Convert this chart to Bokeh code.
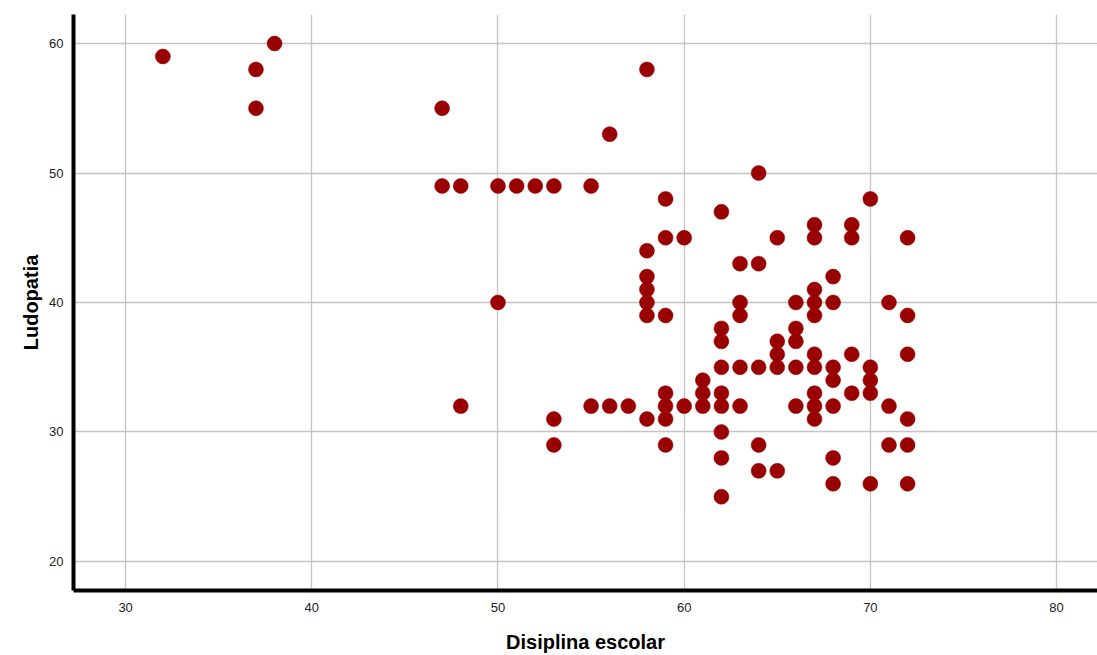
from bokeh.plotting import figure
from bokeh.models import Range1d, FixedTicker
from bokeh.embed import file_html
from bokeh.resources import INLINE

# Disiplina escolar (x) and Ludopatia (y)
disiplina = [32, 37, 37, 38, 47, 58, 56,
             47, 48, 50, 51, 52, 53, 55,
             64, 70, 59, 62,
             67, 69,
             59, 60, 65, 67, 69, 72,
             58,
             63, 64,
             58, 68,
             58, 67,
             50, 58, 63, 66, 67, 68, 71,
             58, 59, 63, 67, 72,
             62, 66,
             62, 65, 66,
             65, 67, 69, 72,
             62, 63, 64, 65, 66, 67, 68, 70,
             61, 68, 70,
             59, 61, 62, 67, 69, 70,
             48, 55, 56, 57, 59, 60, 61, 62, 63, 66, 67, 68, 71,
             53, 58, 59, 67, 72,
             62,
             53, 59, 64, 71, 72,
             62, 68,
             64, 65,
             68, 70, 72,
             62]
ludopatia = [59, 58, 55, 60, 55, 58, 53,
             49, 49, 49, 49, 49, 49, 49,
             50, 48, 48, 47,
             46, 46,
             45, 45, 45, 45, 45, 45,
             44,
             43, 43,
             42, 42,
             41, 41,
             40, 40, 40, 40, 40, 40, 40,
             39, 39, 39, 39, 39,
             38, 38,
             37, 37, 37,
             36, 36, 36, 36,
             35, 35, 35, 35, 35, 35, 35, 35,
             34, 34, 34,
             33, 33, 33, 33, 33, 33,
             32, 32, 32, 32, 32, 32, 32, 32, 32, 32, 32, 32, 32,
             31, 31, 31, 31, 31,
             30,
             29, 29, 29, 29, 29,
             28, 28,
             27, 27,
             26, 26, 26,
             25]

x_ticks = [30, 40, 50, 60, 70, 80]
y_ticks = [20, 30, 40, 50, 60]

p = figure(width=1097, height=655, output_backend="svg", toolbar_location=None,
           x_range=Range1d(27.2, 82.2), y_range=Range1d(17.76, 62.24),
           min_border_left=73, min_border_top=14, min_border_right=0,
           min_border_bottom=65)
p.outline_line_color = None

p.scatter(disiplina, ludopatia, size=15, fill_color="#990000",
          line_color="#990000", line_width=0.5)

for ax in (p.xaxis[0], p.yaxis[0]):
    ax.axis_line_width = 4
    ax.axis_line_color = "black"
    ax.major_tick_line_color = None
    ax.minor_tick_line_color = None
    ax.major_label_text_font = "Liberation Sans"
    ax.major_label_text_font_size = "13px"
    ax.major_label_text_color = "#222222"
    ax.axis_label_text_font = "Liberation Sans"
    ax.axis_label_text_font_style = "bold"
    ax.axis_label_text_font_size = "20px"
    ax.axis_label_text_color = "black"

p.xaxis.ticker = FixedTicker(ticks=x_ticks)
p.yaxis.ticker = FixedTicker(ticks=y_ticks)
p.xaxis.axis_label = "Disiplina escolar"
p.yaxis.axis_label = "Ludopatia"
p.xaxis.major_label_standoff = 6
p.xaxis.axis_label_standoff = 16
p.yaxis.major_label_standoff = 4
p.yaxis.axis_label_standoff = 4

p.xgrid.ticker = FixedTicker(ticks=x_ticks)
p.ygrid.ticker = FixedTicker(ticks=y_ticks)
for g in (p.xgrid[0], p.ygrid[0]):
    g.grid_line_color = "#c4c4c4"
    g.grid_line_width = 1.3

open("out.html", "w").write(file_html(p, INLINE))
